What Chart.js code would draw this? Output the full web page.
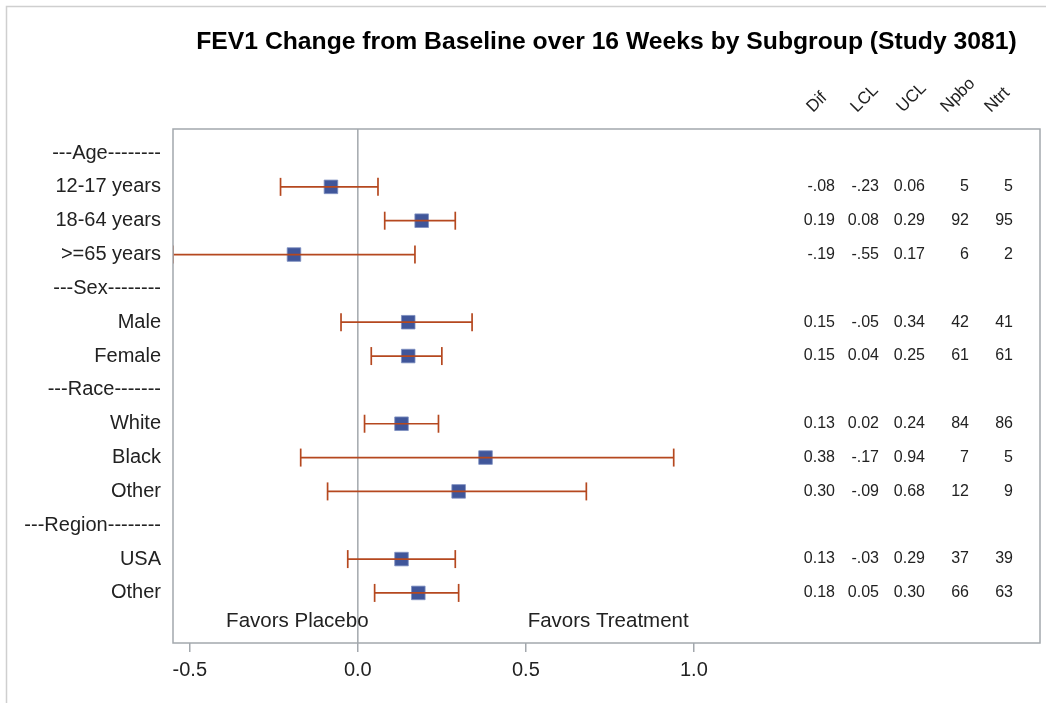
<!DOCTYPE html>
<html>
<head>
<meta charset="utf-8">
<script src="https://cdn.jsdelivr.net/npm/chart.js@4.4.1/dist/chart.umd.min.js"></script>
<style>
  html, body { margin: 0; padding: 0; background: #fff; }
  canvas { display: block; }
</style>
</head>
<body>
<canvas id="forest" width="1046" height="703"></canvas>
<script>
// rows of the forest plot, top to bottom (section headers have no values)
var rowLabels = ['---Age--------', '12-17 years', '18-64 years', '>=65 years',
                 '---Sex--------', 'Male', 'Female',
                 '---Race-------', 'White', 'Black', 'Other',
                 '---Region--------', 'USA', 'Other'];
var dif  = [null, -0.08, 0.19, -0.19, null, 0.15, 0.15, null, 0.13, 0.38, 0.30, null, 0.13, 0.18];
var lcl  = [null, -0.23, 0.08, -0.55, null, -0.05, 0.04, null, 0.02, -0.17, -0.09, null, -0.03, 0.05];
var ucl  = [null, 0.06, 0.29, 0.17, null, 0.34, 0.25, null, 0.24, 0.94, 0.68, null, 0.29, 0.30];
var npbo = [null, 5, 92, 6, null, 42, 61, null, 84, 7, 12, null, 37, 66];
var ntrt = [null, 5, 95, 2, null, 41, 61, null, 86, 5, 9, null, 39, 63];

var xTicks = [-0.5, 0, 0.5, 1.0];
var tableHeaders = ['Dif', 'LCL', 'UCL', 'Npbo', 'Ntrt'];
var titleText = 'FEV1 Change from Baseline over 16 Weeks by Subgroup (Study 3081)';
var favorsLabels = ['Favors Placebo', 'Favors Treatment'];
var favorsX = [-0.18, 0.745];

var frameColor = '#A3A8AD';
var barColor = '#B5481F';
var markerColor = '#40569A';
var textColor = '#222';
var font = 'Liberation Sans, Arial, sans-serif';

var yMin = -0.71, yMax = 14.48;

function fmt(v) {
    var s = v.toFixed(2);
    return v < 0 ? s.replace('-0.', '-.') : s;
}

// build datasets
var datasets = [];
// error bars on top of the markers
for (var i = 0; i < rowLabels.length; i++) {
    if (dif[i] === null) continue;
    datasets.push({
        showLine: true,
        data: [{ x: lcl[i], y: i }, { x: ucl[i], y: i }],
        borderColor: barColor,
        borderWidth: 1.7,
        pointStyle: 'line',
        pointRotation: 90,
        pointRadius: 9,
        pointBorderColor: barColor,
        pointBorderWidth: 1.7,
        order: 1
    });
}
var markerData = [];
for (var j = 0; j < rowLabels.length; j++) {
    if (dif[j] !== null) markerData.push({ x: dif[j], y: j });
}
datasets.push({
    data: markerData,
    pointStyle: 'rect',
    pointRadius: 9.6,
    backgroundColor: markerColor,
    borderColor: '#7d8fc0',
    borderWidth: 0.8,
    order: 2
});
// reference line at zero
datasets.push({
    showLine: true,
    data: [{ x: 0, y: yMin }, { x: 0, y: yMax }],
    borderColor: frameColor,
    borderWidth: 1.5,
    pointRadius: 0,
    order: 3
});

var extras = {
    id: 'extras',
    beforeDraw: function (chart) {
        var ctx = chart.ctx;
        ctx.save();
        ctx.strokeStyle = '#CFCFCF';
        ctx.lineWidth = 1.5;
        ctx.beginPath();
        ctx.moveTo(6.5, 703);
        ctx.lineTo(6.5, 6.5);
        ctx.lineTo(1046, 6.5);
        ctx.stroke();
        ctx.restore();
    },
    afterDraw: function (chart) {
        var ctx = chart.ctx;
        var a = chart.chartArea;
        var xs = chart.scales.x, ys = chart.scales.y;
        ctx.save();

        // frame
        ctx.strokeStyle = frameColor;
        ctx.lineWidth = 1.5;
        ctx.strokeRect(a.left, a.top, a.right - a.left, a.bottom - a.top);

        // title centered over plot area
        ctx.fillStyle = '#000';
        var size = 23;
        ctx.font = 'bold ' + size + 'px ' + font;
        var w = ctx.measureText(titleText).width;
        size = size * 821 / w;
        ctx.font = 'bold ' + size + 'px ' + font;
        ctx.textAlign = 'center';
        ctx.textBaseline = 'middle';
        ctx.fillText(titleText, (a.left + a.right) / 2, 42);

        // table columns (right edges measured from the right frame)
        var colOffsets = [205, 161, 115, 71, 27];
        ctx.font = '16px ' + font;
        ctx.fillStyle = textColor;
        ctx.textAlign = 'right';
        ctx.textBaseline = 'middle';
        for (var r = 0; r < rowLabels.length; r++) {
            if (dif[r] === null) continue;
            var py = ys.getPixelForValue(r);
            var vals = [fmt(dif[r]), fmt(lcl[r]), fmt(ucl[r]), String(npbo[r]), String(ntrt[r])];
            for (var c = 0; c < vals.length; c++) {
                ctx.fillText(vals[c], a.right - colOffsets[c], py);
            }
        }

        // rotated column headers
        ctx.font = '17px ' + font;
        ctx.textAlign = 'left';
        ctx.textBaseline = 'alphabetic';
        for (var h = 0; h < tableHeaders.length; h++) {
            ctx.save();
            ctx.translate(a.right - colOffsets[h] - 22, 113);
            ctx.rotate(-Math.PI / 4);
            ctx.fillText(tableHeaders[h], 0, 0);
            ctx.restore();
        }

        // favors labels
        ctx.font = '20.5px ' + font;
        ctx.textAlign = 'center';
        ctx.textBaseline = 'middle';
        for (var f = 0; f < favorsLabels.length; f++) {
            ctx.fillText(favorsLabels[f], xs.getPixelForValue(favorsX[f]), ys.getPixelForValue(13.85));
        }
        ctx.restore();
    }
};

new Chart(document.getElementById('forest'), {
    type: 'scatter',
    data: { datasets: datasets },
    options: {
        responsive: false,
        animation: false,
        layout: { autoPadding: false, padding: { top: 129, right: 6, left: 0, bottom: 0 } },
        plugins: {
            legend: { display: false },
            tooltip: { enabled: false },
            title: { display: false }
        },
        scales: {
            x: {
                type: 'linear',
                min: -0.55,
                max: 2.03,
                afterBuildTicks: function (axis) {
                    axis.ticks = xTicks.map(function (v) { return { value: v }; });
                },
                afterFit: function (axis) {
                    axis.height = 60;
                    axis.paddingLeft = 0;
                    axis.paddingRight = 0;
                },
                border: { display: false },
                grid: {
                    drawOnChartArea: false,
                    drawTicks: true,
                    tickLength: 9,
                    color: frameColor,
                    lineWidth: 1.5
                },
                ticks: {
                    padding: 6,
                    color: textColor,
                    font: { family: font, size: 20 },
                    maxRotation: 0,
                    callback: function (v) { return Number(v).toFixed(1); }
                }
            },
            y: {
                type: 'linear',
                reverse: true,
                min: yMin,
                max: yMax,
                afterBuildTicks: function (axis) {
                    axis.ticks = rowLabels.map(function (_, i) { return { value: i }; });
                },
                afterFit: function (axis) {
                    axis.width = 173;
                    axis.paddingTop = 0;
                    axis.paddingBottom = 0;
                },
                border: { display: false },
                grid: { display: false, drawTicks: false },
                ticks: {
                    padding: 12,
                    color: textColor,
                    font: { family: font, size: 20 },
                    callback: function (v) { return rowLabels[v]; }
                }
            }
        }
    },
    plugins: [extras]
});
</script>
</body>
</html>
